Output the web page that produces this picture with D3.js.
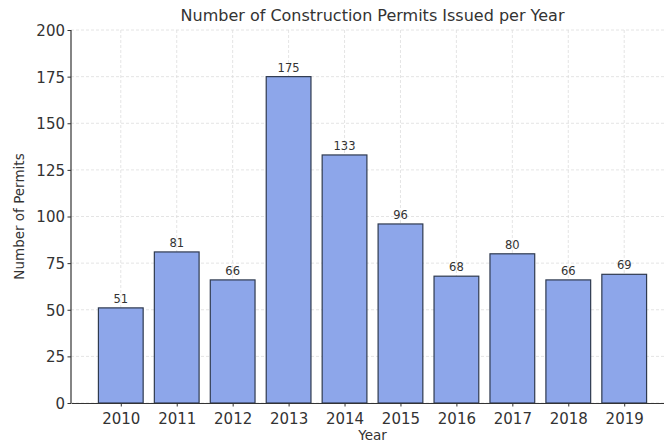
<!DOCTYPE html>
<html>
<head>
<meta charset="utf-8">
<script src="https://cdn.jsdelivr.net/npm/d3@7"></script>
<style>
  body { margin: 0; background: #fff; }
  text { font-family: "DejaVu Sans", sans-serif; fill: #333; }
</style>
</head>
<body>
<div id="chart"></div>
<script>
// data
const years = ["2010", "2011", "2012", "2013", "2014", "2015", "2016", "2017", "2018", "2019"];
const permits = [51, 81, 66, 175, 133, 96, 68, 80, 66, 69];
const yTicks = [0, 25, 50, 75, 100, 125, 150, 175, 200];

const W = 664, H = 444;
const margin = { top: 30, right: -10, bottom: 41, left: 71 };
const width = W - margin.left - margin.right,
  height = H - margin.top - margin.bottom;

const svg = d3.select("#chart")
  .append("svg")
  .attr("width", W)
  .attr("height", H)
  .append("g")
  .attr("transform", `translate(${margin.left},${margin.top})`);

// matplotlib-like x limits: -0.89 .. 9.89
const x = d3.scaleLinear()
  .domain([-0.89, years.length - 1 + 0.89])
  .range([0, width]);
const step = x(1) - x(0);
const barW = step * 0.8;

const y = d3.scaleLinear()
  .domain([0, 200])
  .range([height, 0]);

// grid
svg.append("g")
  .selectAll("line.hgrid")
  .data(yTicks)
  .join("line")
  .attr("x1", 0).attr("x2", width)
  .attr("y1", d => y(d)).attr("y2", d => y(d))
  .attr("stroke", "#ddd").attr("stroke-width", 0.8)
  .attr("stroke-dasharray", "3,2");

svg.append("g")
  .selectAll("line.vgrid")
  .data(years)
  .join("line")
  .attr("x1", (d, i) => x(i)).attr("x2", (d, i) => x(i))
  .attr("y1", 0).attr("y2", height)
  .attr("stroke", "#ddd").attr("stroke-width", 0.8)
  .attr("stroke-dasharray", "3,2");

// bars
svg.selectAll("rect.bar")
  .data(permits)
  .join("rect")
  .attr("class", "bar")
  .attr("x", (d, i) => x(i) - barW / 2)
  .attr("width", barW)
  .attr("y", d => y(d))
  .attr("height", d => height - y(d))
  .attr("fill", "#8da6ea")
  .attr("stroke", "#2f3a4f")
  .attr("stroke-width", 1.2);

// value labels
svg.selectAll("text.val")
  .data(permits)
  .join("text")
  .attr("class", "val")
  .attr("x", (d, i) => x(i))
  .attr("y", d => y(d) - 5)
  .attr("text-anchor", "middle")
  .style("font-size", "11.5px")
  .text(d => d);

// axes
const xAxis = svg.append("g")
  .attr("transform", `translate(0,${height})`)
  .call(d3.axisBottom(x).tickValues(d3.range(years.length)).tickFormat(i => years[i]).tickSize(3.5).tickSizeOuter(0));
const yAxis = svg.append("g")
  .call(d3.axisLeft(y).tickValues(yTicks).tickSize(3.5).tickSizeOuter(0));

[xAxis, yAxis].forEach(a => {
  a.select(".domain").attr("stroke", "#333").attr("stroke-width", 1.2);
  a.selectAll(".tick line").attr("stroke", "#333");
  a.selectAll(".tick text").style("font-size", "15px").attr("fill", "#333");
});
xAxis.selectAll(".tick text").attr("dy", "0.95em");
yAxis.selectAll(".tick text").attr("dy", "0.36em").attr("x", -6);
yAxis.select(".domain").attr("d", `M0,${height}V0`);

// titles
svg.append("text")
  .attr("x", width / 2).attr("y", -9)
  .attr("text-anchor", "middle")
  .style("font-size", "16px")
  .text("Number of Construction Permits Issued per Year");

svg.append("text")
  .attr("x", width / 2).attr("y", height + 37)
  .attr("text-anchor", "middle")
  .style("font-size", "13.5px")
  .text("Year");

svg.append("text")
  .attr("transform", `rotate(-90)`)
  .attr("x", -height / 2).attr("y", -47)
  .attr("text-anchor", "middle")
  .style("font-size", "13.5px")
  .text("Number of Permits");
</script>
</body>
</html>
